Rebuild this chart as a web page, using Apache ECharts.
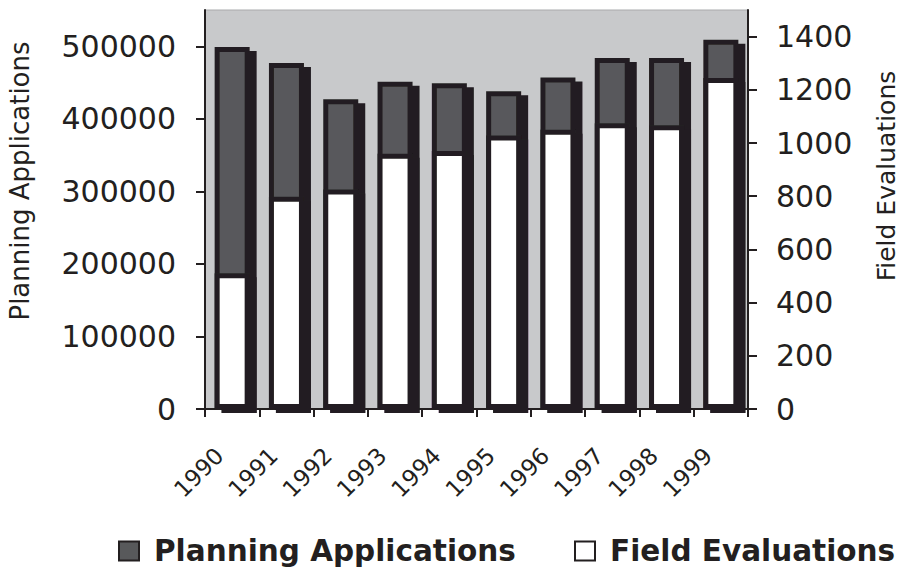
<!DOCTYPE html>
<html>
<head>
<meta charset="utf-8">
<style>
  html, body { margin: 0; padding: 0; background: #ffffff; }
  #chart { width: 899px; height: 568px; }
</style>
<script src="https://cdn.jsdelivr.net/npm/echarts@6/dist/echarts.min.js"></script>
</head>
<body>
<div id="chart"></div>
<script>
// Years on the category axis
const years = ['1990', '1991', '1992', '1993', '1994', '1995', '1996', '1997', '1998', '1999'];
// Planning applications received (left axis)
const planningApplications = [499000, 477000, 427000, 451000, 449000, 438000, 457000, 484000, 484000, 509000];
// Field evaluations carried out (right axis)
const fieldEvaluations = [510, 798, 825, 960, 970, 1028, 1050, 1074, 1067, 1244];
// Tick values shown on each value axis
const leftTicks = [0, 100000, 200000, 300000, 400000, 500000];
const rightTicks = [0, 200, 400, 600, 800, 1000, 1200, 1400];

const ink = '#231f20';
const font = 'DejaVu Sans, Verdana, sans-serif';
const plain = (v) => String(v);

const chart = echarts.init(document.getElementById('chart'), null, { renderer: 'svg' });

const barStyle = (fill) => ({
  color: fill,
  borderColor: ink,
  borderWidth: 5,
  shadowColor: ink,
  shadowBlur: 0,
  shadowOffsetX: 7,
  shadowOffsetY: 4
});

// One legend block per series, laid out side by side under the plot
const legendBlock = (name, left) => ({
  left: left, top: 536, padding: 0,
  itemWidth: 20, itemHeight: 19,
  icon: 'rect',
  itemStyle: { borderColor: ink, borderWidth: 2, shadowBlur: 0, shadowOffsetX: 0, shadowOffsetY: 0, shadowColor: 'rgba(0,0,0,0)' },
  textStyle: { fontFamily: font, fontWeight: 'bold', fontSize: 29.5, color: ink, padding: [0, 0, 0, 10] },
  data: [name]
});

chart.setOption({
  animation: false,
  textStyle: { fontFamily: font, color: ink },
  grid: {
    left: 205, right: 151, top: 10, bottom: 159,
    show: true, backgroundColor: '#c8c9cb', borderColor: '#a9aaac', borderWidth: 1
  },
  legend: [
    legendBlock('Planning Applications', 118),
    legendBlock('Field Evaluations', 574)
  ],
  xAxis: {
    type: 'category',
    data: years,
    boundaryGap: true,
    axisLine: { show: true, lineStyle: { color: ink, width: 2 } },
    axisTick: { show: true, length: 8, lineStyle: { color: ink, width: 2 } },
    axisLabel: {
      interval: 0, rotate: 45, fontSize: 23, margin: 30, padding: [0, 18, 0, 0],
      color: ink, fontFamily: font
    },
    splitLine: { show: false }
  },
  yAxis: [
    {
      type: 'value', position: 'left',
      min: 0, max: 550000, interval: 100000,
      axisLine: { show: true, lineStyle: { color: ink, width: 2 } },
      axisTick: { show: true, length: 9, lineStyle: { color: ink, width: 2 }, customValues: leftTicks },
      axisLabel: { fontSize: 30, margin: 29, color: ink, fontFamily: font, customValues: leftTicks, formatter: plain },
      splitLine: { show: false }
    },
    {
      type: 'value', position: 'right',
      min: 0, max: 1500, interval: 200,
      axisLine: { show: true, lineStyle: { color: ink, width: 2 } },
      axisTick: { show: true, length: 9, lineStyle: { color: ink, width: 2 }, customValues: rightTicks },
      axisLabel: { fontSize: 30, margin: 28, color: ink, fontFamily: font, customValues: rightTicks, formatter: plain },
      splitLine: { show: false }
    }
  ],
  graphic: [
    {
      type: 'text', x: 20, y: 181, rotation: Math.PI / 2,
      style: { text: 'Planning Applications', fontSize: 26, lineHeight: 26, fontFamily: font, fill: ink, align: 'center', verticalAlign: 'middle' }
    },
    {
      type: 'text', x: 886, y: 176, rotation: Math.PI / 2,
      style: { text: 'Field Evaluations', fontSize: 25, lineHeight: 24, fontFamily: font, fill: ink, align: 'center', verticalAlign: 'middle' }
    }
  ],
  series: [
    {
      name: 'Planning Applications', type: 'bar', yAxisIndex: 0,
      data: planningApplications, barWidth: 35,
      itemStyle: barStyle('#58595b')
    },
    {
      name: 'Field Evaluations', type: 'bar', yAxisIndex: 1,
      data: fieldEvaluations, barWidth: 35, barGap: '-100%',
      itemStyle: barStyle('#ffffff')
    }
  ]
});
</script>
</body>
</html>
